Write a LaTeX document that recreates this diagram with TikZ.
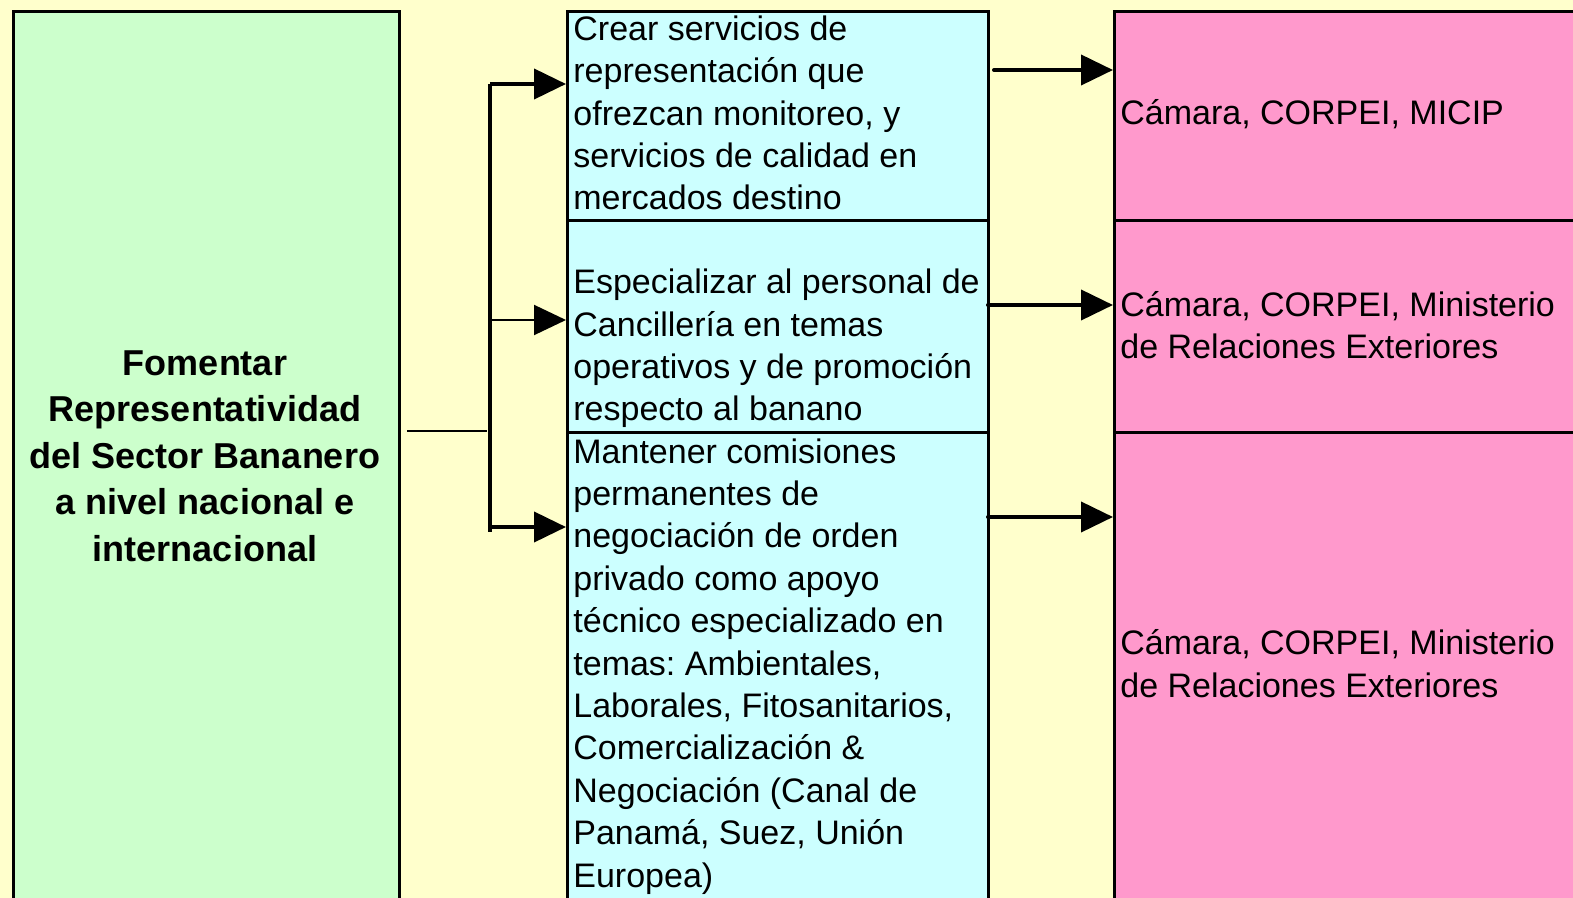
\documentclass[tikz,border=0pt]{standalone}
\usepackage{fontspec}
\setmainfont{Liberation Sans}
\usepackage{tikz}
\usetikzlibrary{arrows.meta,calc}
\definecolor{fondo}{HTML}{FFFFCC}
\definecolor{verde}{HTML}{CCFFCC}
\definecolor{celeste}{HTML}{CCFFFF}
\definecolor{rosa}{HTML}{FF99CC}
\frenchspacing
\begin{document}
\begin{tikzpicture}[x=0.5pt, y=-0.5pt,
  caja/.style={draw, line width=1.7pt, rectangle, anchor=north west, inner sep=0pt},
  texto/.style={anchor=base west, align=left, inner sep=0pt, font=\fontsize{17}{21.2}\selectfont},
  flecha/.style={line width=2pt, -{Triangle[length=16pt, width=15pt]}},
  fina/.style={line width=1pt, -{Triangle[length=16pt, width=15pt]}}]
  \fill[fondo] (0,0) rectangle (1573,898);
  \useasboundingbox (0,0) rectangle (1573,898);
  \clip (0,0) rectangle (1573,898);
  % objetivo (base = ultima linea)
  \node[caja, fill=verde, minimum width=193pt, minimum height=460pt] (obj) at (11.5,10) {};
  \node[anchor=base, align=center, inner sep=0pt, font=\fontsize{18}{23.25}\selectfont\bfseries] (tobj) at (205,561)
  {Fomentar\\Representatividad\\del Sector Bananero\\a nivel nacional e\\internacional};
  % acciones
  \node[caja, fill=celeste, minimum width=210.5pt, minimum height=104.5pt] (acc1) at (566,10) {};
  \node[caja, fill=celeste, minimum width=210.5pt, minimum height=106pt] (acc2) at (566,219) {};
  \node[caja, fill=celeste, minimum width=210.5pt, minimum height=250pt] (acc3) at (566,431) {};
  \node[texto] (tacc1) at (573,210) {Crear servicios de\\representación que\\ofrezcan monitoreo, y\\servicios de calidad en\\mercados destino};
  \node[texto] (tacc2) at (573,421) {Especializar al personal de\\Cancillería en temas\\operativos y de promoción\\respecto al banano};
  \node[texto] (tacc3) at (573,887) {Mantener comisiones\\permanentes de\\negociación de orden\\privado como apoyo\\técnico especializado en\\temas: Ambientales,\\Laborales, Fitosanitarios,\\Comercialización \&\\Negociación (Canal de\\Panamá, Suez, Unión\\Europea)};
  % responsables
  \node[caja, fill=rosa, minimum width=250pt, minimum height=104.5pt] (res1) at (1113,10) {};
  \node[caja, fill=rosa, minimum width=250pt, minimum height=106pt] (res2) at (1113,219) {};
  \node[caja, fill=rosa, minimum width=250pt, minimum height=250pt] (res3) at (1113,431) {};
  \node[texto] (tres1) at (1120,125) {Cámara, CORPEI, MICIP};
  \node[texto] (tres2) at (1120,359) {Cámara, CORPEI, Ministerio\\de Relaciones Exteriores};
  \node[texto] (tres3) at (1120,697) {Cámara, CORPEI, Ministerio\\de Relaciones Exteriores};
  % conectores
  \coordinate (ramA) at (490,84);
  \coordinate (ramB) at (490,320);
  \coordinate (ramC) at (490,527);
  \coordinate (ramD) at (490,532);
  \coordinate (nudo) at (487,431);
  \draw[line width=1pt] ($(obj.east |- nudo)+(3pt,0)$) -- (nudo);
  \draw[line width=2pt] (ramA) -- (ramD);
  \path[flecha] (ramA) edge (ramA -| acc1.west)
                (ramC) edge (ramC -| acc3.west);
  \path[fina] (ramB) edge (ramB -| acc2.west);
  \coordinate (salA) at (994,70);
  \coordinate (salB) at (988,305);
  \coordinate (salC) at (988,517);
  \path[flecha, line cap=round] (salA) edge (salA -| res1.west)
                (salB) edge (salB -| res2.west)
                (salC) edge (salC -| res3.west);
\end{tikzpicture}
\end{document}
